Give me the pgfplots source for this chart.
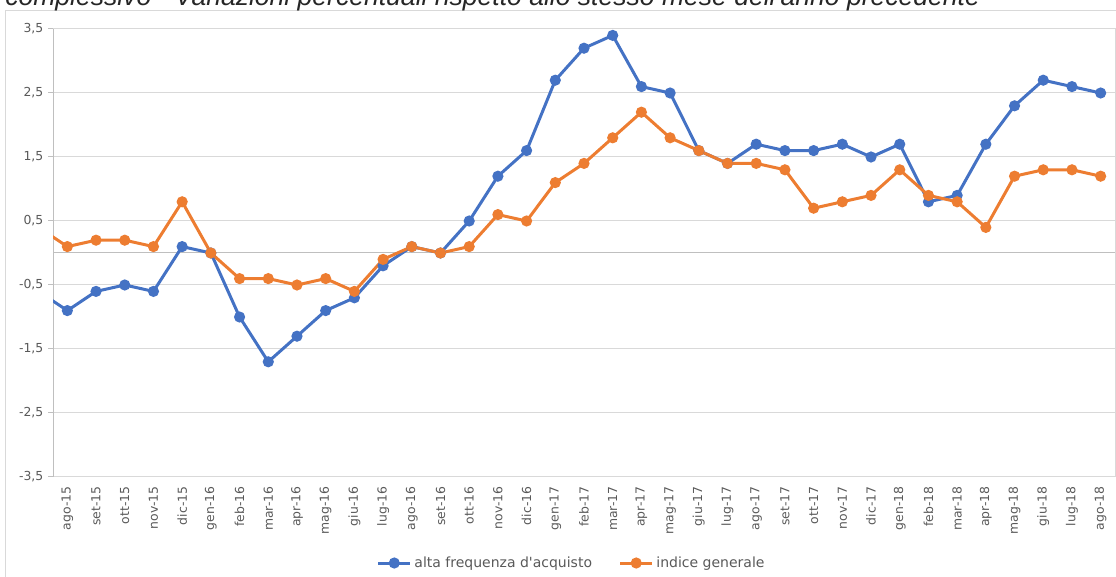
\documentclass[border=0pt]{standalone}
\usepackage{pgfplots}
\pgfplotsset{compat=1.18}
\usepackage{fontspec}
\setmainfont{DejaVu Sans}
\newfontfamily\titlefont{Liberation Sans}
\definecolor{cblue}{HTML}{4472C4}
\definecolor{corange}{HTML}{ED7D31}
\definecolor{gridc}{HTML}{D9D9D9}
\definecolor{axc}{HTML}{BFBFBF}
\definecolor{txt}{HTML}{595959}
\begin{document}
\begin{tikzpicture}[x=1pt,y=1pt]
\clip (0,0) rectangle (837,432.75);
\useasboundingbox (0,0) rectangle (837,432.75);
% chart frame
\draw[gridc, line width=0.75pt] (3.75,0) -- (3.75,424.5) -- (840,424.5);
% cut title
\node[anchor=base west, inner sep=0pt, text=black!85] at (3.75,428.25)
  {\resizebox{731pt}{!}{\titlefont\itshape complessivo - Variazioni percentuali rispetto allo stesso mese dell\textquotesingle anno precedente}};
\begin{axis}[
  at={(39.75pt,75pt)}, anchor=south west,
  scale only axis, width=796.5pt, height=336pt,
  xmin=-0.5, xmax=36.5, ymin=-3.5, ymax=3.5,
  axis line style={gridc, line width=0.75pt},
  ytick={-3.5,-2.5,-1.5,-0.5,0.5,1.5,2.5,3.5},
  yticklabels={{-3,5},{-2,5},{-1,5},{-0,5},{0,5},{1,5},{2,5},{3,5}},
  ymajorgrids, major grid style={gridc, line width=0.75pt},
  xtick={0,...,36},
  xticklabels={ago-15,set-15,ott-15,nov-15,dic-15,gen-16,feb-16,mar-16,apr-16,mag-16,giu-16,lug-16,ago-16,set-16,ott-16,nov-16,dic-16,gen-17,feb-17,mar-17,apr-17,mag-17,giu-17,lug-17,ago-17,set-17,ott-17,nov-17,dic-17,gen-18,feb-18,mar-18,apr-18,mag-18,giu-18,lug-18,ago-18},
  x tick style={draw=none},
  y tick style={axc, line width=0.75pt},
  tick align=outside, major tick length=3.75pt,
  ytick pos=left,
  tick label style={font=\fontsize{9.3}{11}\selectfont, text=txt},
  xticklabel style={rotate=90, anchor=east},
  legend style={at={(0.4887,-0.192)}, anchor=center, draw=none, fill=none,
    font=\fontsize{10.5}{12}\selectfont, text=txt, legend columns=2,
    /tikz/every even column/.append style={column sep=18pt},
    inner sep=0pt},
  legend cell align=left,
  legend image code/.code={\draw[#1, mark repeat=2, mark phase=2] plot coordinates {(0pt,0pt) (12pt,0pt) (24pt,0pt)};},
]
\draw[axc, line width=0.75pt] (axis cs:-0.5,0) -- (axis cs:36.5,0);
\draw[axc, line width=0.75pt] (axis cs:-0.5,-3.5) -- (axis cs:-0.5,3.5);
\addplot[cblue, line width=2.25pt, mark=*, mark size=3pt] coordinates {
(-1,-0.6) (0,-0.9) (1,-0.6) (2,-0.5) (3,-0.6) (4,0.1) (5,0.0) (6,-1.0) (7,-1.7) (8,-1.3) (9,-0.9) (10,-0.7) (11,-0.2) (12,0.1) (13,0.0) (14,0.5) (15,1.2) (16,1.6) (17,2.7) (18,3.2) (19,3.4) (20,2.6) (21,2.5) (22,1.6) (23,1.4) (24,1.7) (25,1.6) (26,1.6) (27,1.7) (28,1.5) (29,1.7) (30,0.8) (31,0.9) (32,1.7) (33,2.3) (34,2.7) (35,2.6) (36,2.5)};
\addlegendentry{alta frequenza d\textquotesingle acquisto}
\addplot[corange, line width=2.25pt, mark=*, mark size=3pt] coordinates {
(-1,0.4) (0,0.1) (1,0.2) (2,0.2) (3,0.1) (4,0.8) (5,0.0) (6,-0.4) (7,-0.4) (8,-0.5) (9,-0.4) (10,-0.6) (11,-0.1) (12,0.1) (13,0.0) (14,0.1) (15,0.6) (16,0.5) (17,1.1) (18,1.4) (19,1.8) (20,2.2) (21,1.8) (22,1.6) (23,1.4) (24,1.4) (25,1.3) (26,0.7) (27,0.8) (28,0.9) (29,1.3) (30,0.9) (31,0.8) (32,0.4) (33,1.2) (34,1.3) (35,1.3) (36,1.2)};
\addlegendentry{indice generale}
\end{axis}
\end{tikzpicture}
\end{document}
